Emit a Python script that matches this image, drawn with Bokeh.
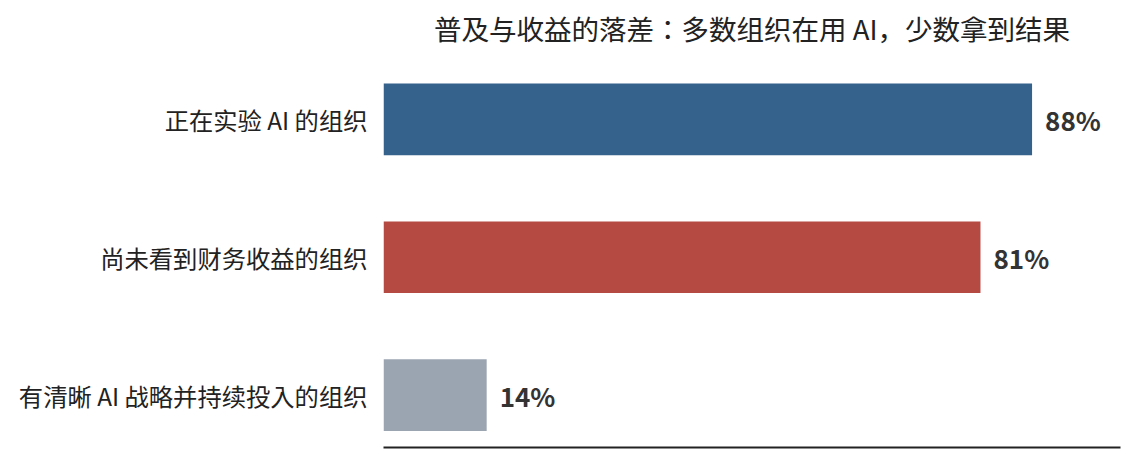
from bokeh.plotting import figure
from bokeh.models import Range1d, FixedTicker, ColumnDataSource, Label
from bokeh.core.properties import value
from bokeh.embed import file_html
from bokeh.resources import INLINE

title_text = "普及与收益的落差：多数组织在用 AI，少数拿到结果"
categories = ["有清晰 AI 战略并持续投入的组织", "尚未看到财务收益的组织", "正在实验 AI 的组织"]
values = [14, 81, 88]
labels = ["14%", "81%", "88%"]
colors = ["#9BA5B1", "#B44A42", "#35618D"]

FONT = "Noto Sans CJK JP"
ypos = list(range(len(categories)))
Y_BOTTOM = -0.38
Y_TOP = 2.862
X_MAX = 100

src = ColumnDataSource(dict(y=ypos, v=values, lab=labels, c=colors))

p = figure(frame_width=737, frame_height=447, output_backend="svg", toolbar_location=None,
           x_range=Range1d(0, X_MAX), y_range=Range1d(Y_BOTTOM, Y_TOP),
           min_border_left=383, min_border_right=6, min_border_top=0, min_border_bottom=6)

# chart title, centred over the plot area (frame extends to the top; outline hidden)
p.add_layout(Label(x=X_MAX / 2, y=Y_TOP - 0.203, text=title_text, text_align="center",
                   text_baseline="middle", text_font=FONT, text_font_size="27.5px",
                   text_color="#222222"))

p.hbar(y="y", right="v", left=0, height=0.52, fill_color="c", line_color=None, source=src)
p.text(x="v", y="y", text="lab", source=src, x_offset=13, text_baseline="middle", text_align="left",
       text_font=value(FONT), text_font_size="26px", text_font_style="bold", text_color="#333333")

p.outline_line_color = None
p.grid.visible = False
p.background_fill_color = "white"
p.border_fill_color = "white"

p.xaxis.major_label_text_font_size = "0px"
p.xaxis.major_tick_line_color = None
p.xaxis.minor_tick_line_color = None
p.xaxis.axis_line_color = "#222222"
p.xaxis.axis_line_width = 2
p.xaxis.major_label_standoff = 0

p.yaxis.ticker = FixedTicker(ticks=ypos)
p.yaxis.major_label_overrides = {i: c for i, c in zip(ypos, categories)}
p.yaxis.axis_line_color = None
p.yaxis.major_tick_line_color = None
p.yaxis.minor_tick_line_color = None
p.yaxis.major_tick_out = 0
p.yaxis.major_tick_in = 0
p.yaxis.major_label_standoff = 16
p.yaxis.major_label_text_font = FONT
p.yaxis.major_label_text_font_size = "24.3px"
p.yaxis.major_label_text_color = "#222222"

open("out.html", "w").write(file_html(p, INLINE))
